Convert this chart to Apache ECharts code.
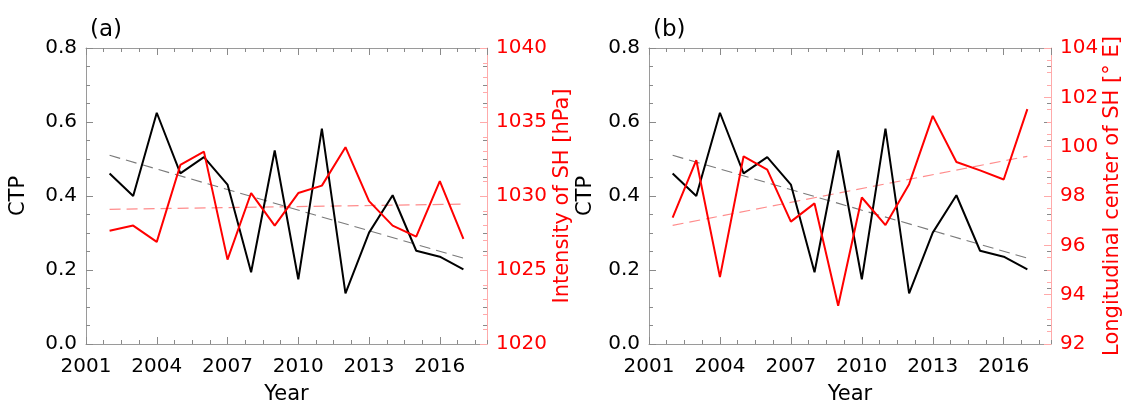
<!DOCTYPE html>
<html>
<head>
<meta charset="utf-8">
<script src="https://cdn.jsdelivr.net/npm/echarts@6/dist/echarts.min.js"></script>
<style>
html,body{margin:0;padding:0;background:#fff;}
#chart{width:1124px;height:401px;}
</style>
</head>
<body>
<div id="chart"></div>
<script>
// ---- data ----
const years = [2002,2003,2004,2005,2006,2007,2008,2009,2010,2011,2012,2013,2014,2015,2016,2017];
const ctp = [0.461,0.400,0.625,0.461,0.505,0.431,0.194,0.523,0.175,0.582,0.137,0.301,0.402,0.252,0.236,0.202];
const intensitySH = [1027.65,1028.0,1026.9,1032.1,1033.0,1025.7,1030.2,1028.0,1030.2,1030.7,1033.3,1029.65,1028.0,1027.25,1031.0,1027.1];
const lonCenterSH = [97.12,99.45,94.71,99.61,99.07,96.96,97.70,93.55,97.94,96.82,98.48,101.25,99.38,99.04,98.67,101.52];
// trend line end points
const trendYears = [2002,2017];
const ctpTrend = [0.510,0.232];
const intensityTrend = [1029.1,1029.45];
const lonTrend = [96.81,99.61];
// axis ranges / labels
const xRange = [2001,2018];
const ctpRange = [0,0.8];
const intensityRange = [1020,1040];
const lonRange = [92,104];
const panelLabels = ['(a)','(b)'];
const rightNames = ['Intensity of SH [hPa]','Longitudinal center of SH [° E]'];

const FONT = 'DejaVu Sans';
const GRAY = '#9a9a9a';
const TICKGRAY = '#8a8a8a';
const PINK = '#ffaaaa';
const RED = '#ff0000';

const pairs = (xs, ys) => xs.map((x,i)=>[x, ys[i]]);

const grids = [
  {left:86, top:48, width:401, height:296, outerBoundsMode:'none', containLabel:false},
  {left:649, top:48, width:402, height:296, outerBoundsMode:'none', containLabel:false}
];
const leftNameGap = [57, 53];
const rightNameGap = [65, 51];

const xAxes = [], yAxes = [], series = [], titles = [];

grids.forEach((g, gi) => {
  titles.push({text: panelLabels[gi], left: g.left - 1, top: 14,
    textStyle:{fontFamily:FONT, fontSize:23, fontWeight:'normal', color:'#000'}});
  const xBase = {type:'value', gridIndex:gi, min:xRange[0], max:xRange[1], splitLine:{show:false}};
  const line = (show, color) => ({show:show, onZero:false, lineStyle:{color:color, width:1}});
  xAxes.push(Object.assign({}, xBase, {
    position:'bottom', interval:3,
    axisLine:line(true, GRAY),
    axisTick:{show:true, inside:true, length:7, lineStyle:{color:TICKGRAY}},
    axisLabel:{show:true, fontFamily:FONT, fontSize:20, color:'#000', margin:13, showMaxLabel:false,
      formatter:v=>String(Math.round(v))},
    name:'Year', nameLocation:'middle', nameGap:40,
    nameTextStyle:{fontFamily:FONT, fontSize:21, color:'#000'}
  }));
  xAxes.push(Object.assign({}, xBase, {
    position:'bottom', interval:0.75,
    axisLine:line(false, GRAY),
    axisTick:{show:true, inside:true, length:4, lineStyle:{color:TICKGRAY}},
    axisLabel:{show:false}
  }));
  xAxes.push(Object.assign({}, xBase, {
    position:'top', interval:3,
    axisLine:line(true, GRAY),
    axisTick:{show:true, inside:true, length:7, lineStyle:{color:TICKGRAY}},
    axisLabel:{show:false}
  }));
  xAxes.push(Object.assign({}, xBase, {
    position:'top', interval:0.75,
    axisLine:line(false, GRAY),
    axisTick:{show:true, inside:true, length:4, lineStyle:{color:TICKGRAY}},
    axisLabel:{show:false}
  }));

  const yLeftBase = {type:'value', gridIndex:gi, min:ctpRange[0], max:ctpRange[1], interval:0.2, splitLine:{show:false}};
  yAxes.push(Object.assign({}, yLeftBase, {
    position:'left',
    axisLine:line(true, GRAY),
    axisTick:{show:true, inside:true, length:7, lineStyle:{color:TICKGRAY}},
    minorTick:{show:true, splitNumber:4, length:4, lineStyle:{color:TICKGRAY}},
    axisLabel:{show:true, fontFamily:FONT, fontSize:20, color:'#000', margin:9, formatter:v=>v.toFixed(1)},
    name:'CTP', nameLocation:'middle', nameGap:leftNameGap[gi], nameRotate:90,
    nameTextStyle:{fontFamily:FONT, fontSize:21, color:'#000'}
  }));
  yAxes.push(Object.assign({}, yLeftBase, {
    position:'right',
    axisLine:line(false, GRAY),
    axisTick:{show:true, inside:true, length:7, lineStyle:{color:TICKGRAY}},
    minorTick:{show:true, splitNumber:4, length:4, lineStyle:{color:TICKGRAY}},
    axisLabel:{show:false}
  }));
  const rr = gi === 0 ? intensityRange : lonRange;
  yAxes.push({
    type:'value', gridIndex:gi, position:'right', min:rr[0], max:rr[1],
    interval: gi === 0 ? 5 : 2, splitLine:{show:false},
    axisLine:line(true, PINK),
    axisTick:{show:true, inside:true, length:7, lineStyle:{color:PINK}},
    minorTick:{show:true, splitNumber: gi === 0 ? 5 : 4, length:4, lineStyle:{color:PINK}},
    axisLabel:{show:true, fontFamily:FONT, fontSize:20, color:RED, margin:9, formatter:v=>String(Math.round(v))},
    name: rightNames[gi], nameLocation:'middle', nameGap: rightNameGap[gi], nameRotate:90,
    nameTextStyle:{fontFamily:FONT, fontSize:21, color:RED}
  });

  const xi = gi*4, yi = gi*3;
  series.push({
    type:'line', xAxisIndex:xi, yAxisIndex:yi+2, data:pairs(trendYears, gi===0?intensityTrend:lonTrend),
    symbol:'none', silent:true, lineStyle:{color:'#ff8c8c', width:1.2, type:[11,6]}, z:2
  });
  series.push({
    type:'line', xAxisIndex:xi, yAxisIndex:yi, data:pairs(trendYears, ctpTrend),
    symbol:'none', silent:true, lineStyle:{color:'#7a7a7a', width:1.1, type:[11,6]}, z:2
  });
  series.push({
    type:'line', xAxisIndex:xi, yAxisIndex:yi, data:pairs(years, ctp),
    symbol:'none', silent:true, lineStyle:{color:'#000', width:2}, z:3
  });
  series.push({
    type:'line', xAxisIndex:xi, yAxisIndex:yi+2, data:pairs(years, gi===0?intensitySH:lonCenterSH),
    symbol:'none', silent:true, lineStyle:{color:RED, width:2}, z:4
  });
});

const chart = echarts.init(document.getElementById('chart'), null, {renderer:'canvas'});
chart.setOption({
  animation:false,
  backgroundColor:'#fff',
  title: titles,
  grid: grids,
  xAxis: xAxes,
  yAxis: yAxes,
  series: series
});
</script>
</body>
</html>
